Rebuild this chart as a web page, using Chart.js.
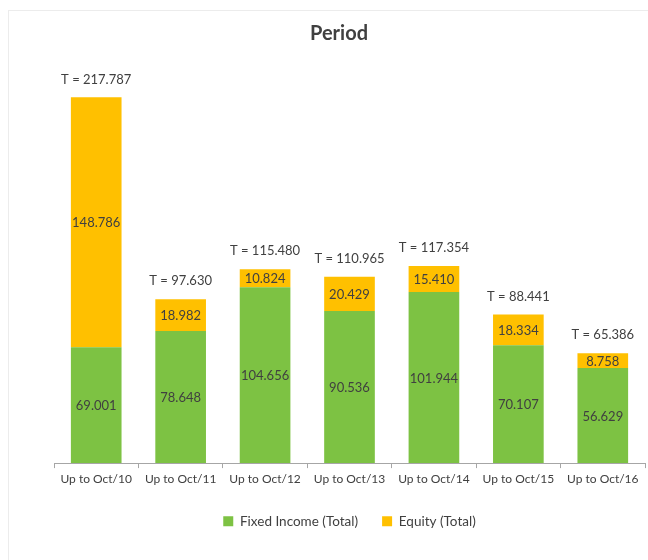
<!DOCTYPE html>
<html><head><meta charset="utf-8">
<script src="https://cdn.jsdelivr.net/npm/chart.js@4"></script>
<style>
html,body{margin:0;padding:0;background:#fff;}
#wrap{position:relative;width:648px;height:560px;overflow:hidden;}
#frame{position:absolute;left:8px;top:10px;width:700px;height:600px;border:1px solid #ececec;}
canvas{position:absolute;left:0;top:0;}
</style></head><body>
<div id="wrap"><div id="frame"></div><canvas id="c" width="648" height="560"></canvas></div>
<script>
const categories = ['Up to Oct/10','Up to Oct/11','Up to Oct/12','Up to Oct/13','Up to Oct/14','Up to Oct/15','Up to Oct/16'];
const fixedIncome = [69.001, 78.648, 104.656, 90.536, 101.944, 70.107, 56.629];
const equity = [148.786, 18.982, 10.824, 20.429, 15.410, 18.334, 8.758];
const totals = [217.787, 97.630, 115.480, 110.965, 117.354, 88.441, 65.386];
const seriesNames = ['Fixed Income (Total)', 'Equity (Total)'];
const chartTitle = 'Period';

const FONT = 'Lato, "Open Sans", sans-serif';
const TEXT = '#404040';

const labelPlugin = {
  id: 'labels',
  afterDatasetsDraw(chart) {
    const ctx = chart.ctx;
    ctx.save();
    ctx.fillStyle = TEXT;
    ctx.font = '13px ' + FONT;
    ctx.textAlign = 'center';
    ctx.textBaseline = 'middle';
    chart.data.datasets.forEach((ds, di) => {
      const meta = chart.getDatasetMeta(di);
      meta.data.forEach((bar, i) => {
        const yc = (bar.y + bar.base) / 2;
        ctx.fillText(ds.data[i].toFixed(3), bar.x, yc + 1);
      });
    });
    const top = chart.getDatasetMeta(chart.data.datasets.length - 1);
    top.data.forEach((bar, i) => {
      ctx.fillText('T = ' + totals[i].toFixed(3), bar.x, bar.y - 18);
    });
    // title
    ctx.font = 'bold 20px ' + FONT;
    ctx.fillStyle = '#404040';
    ctx.fillText(chartTitle, 339, 34);
    ctx.restore();
  }
};

new Chart(document.getElementById('c'), {
  type: 'bar',
  data: {
    labels: categories,
    datasets: [
      { label: seriesNames[0], data: fixedIncome, backgroundColor: '#7DC243', borderWidth: 0 },
      { label: seriesNames[1], data: equity, backgroundColor: '#FFC000', borderWidth: 0 }
    ]
  },
  options: {
    responsive: false,
    animation: false,
    devicePixelRatio: 1,
    layout: { padding: { left: 54, right: 3, top: 54, bottom: 22 } },
    datasets: { bar: { categoryPercentage: 1, barPercentage: 0.6 } },
    scales: {
      x: {
        stacked: true,
        grid: { drawOnChartArea: false, drawTicks: true, tickLength: 5, color: '#a6a6a6', offset: true },
        border: { display: true, color: '#a6a6a6', width: 1 },
        ticks: { color: TEXT, font: { family: FONT, size: 12 }, padding: 4, maxRotation: 0, autoSkip: false }
      },
      y: {
        stacked: true,
        display: false,
        min: 0,
        max: 243.6
      }
    },
    plugins: {
      legend: {
        position: 'bottom',
        labels: { boxWidth: 10, boxHeight: 10, color: TEXT, font: { family: FONT, size: 13.5 }, padding: 24 }
      },
      title: { display: false },
      tooltip: { enabled: false }
    }
  },
  plugins: [labelPlugin]
});
</script>
</body></html>
